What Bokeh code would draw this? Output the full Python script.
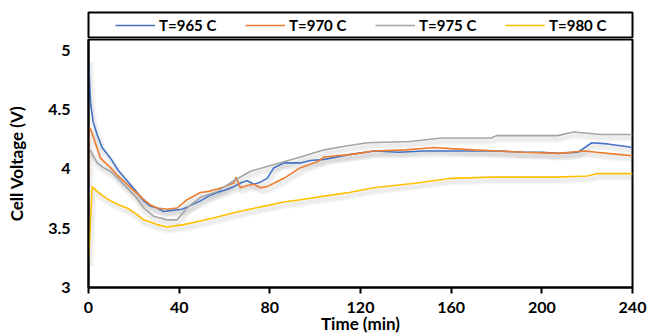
from bokeh.plotting import figure
from bokeh.models import Range1d, Legend, LegendItem, FixedTicker
from bokeh.layouts import column
from bokeh.embed import file_html
from bokeh.resources import INLINE

# ---- data (time in min, cell voltage in V) ----
t965 = [0, 0.9, 2, 3.8, 6, 9.7, 13, 17, 21, 24.4, 27, 30.3, 33.2, 37, 41.3, 45, 49.4, 53, 56.8, 60,
        64.1, 67, 70, 73, 76, 78.8, 81.8, 86.2, 93.5, 98, 104, 115, 126, 137, 148, 159, 170, 181, 192, 200,
        207, 216, 219, 222, 229, 236.5, 240]
v965 = [4.93, 4.56, 4.40, 4.29, 4.18, 4.09, 3.99, 3.90, 3.81, 3.73, 3.69, 3.67, 3.64, 3.65, 3.66, 3.69, 3.73, 3.77, 3.80, 3.82,
        3.85, 3.88, 3.90, 3.87, 3.89, 3.92, 4.01, 4.05, 4.05, 4.07, 4.08, 4.12, 4.15, 4.14, 4.15, 4.15, 4.15, 4.15, 4.14, 4.14,
        4.13, 4.14, 4.18, 4.22, 4.21, 4.19, 4.18]

t970 = [0, 0.3, 1, 2.3, 5.3, 9.7, 13, 17, 21, 24.4, 27, 30.3, 34.7, 39.1, 43.5, 49.4, 53, 56.8, 60, 64.1,
        65, 67, 70, 73, 76, 78.8, 82, 86.2, 93.5, 101, 104, 115, 126, 140, 152.6, 160, 170, 181, 192, 207,
        219, 224, 229, 235, 240]
v970 = [3.88, 4.35, 4.33, 4.26, 4.09, 4.01, 3.94, 3.87, 3.80, 3.74, 3.70, 3.67, 3.66, 3.67, 3.74, 3.80, 3.81, 3.83, 3.85, 3.88,
        3.93, 3.84, 3.86, 3.87, 3.84, 3.85, 3.88, 3.92, 4.01, 4.06, 4.10, 4.12, 4.15, 4.16, 4.18, 4.17, 4.16, 4.15, 4.14, 4.13,
        4.15, 4.14, 4.13, 4.12, 4.11]

t975 = [0, 1, 3.8, 6.5, 9.7, 13, 17, 21, 24.4, 28.8, 34.7, 39, 43.5, 49.4, 56.8, 64.1, 71.5, 78.8, 86.2, 93.5,
        104, 113, 123, 142, 155.6, 177.7, 180, 207, 214, 226, 240]
v975 = [4.17, 4.15, 4.05, 4.01, 3.98, 3.92, 3.84, 3.76, 3.67, 3.60, 3.57, 3.57, 3.67, 3.76, 3.81, 3.90, 3.98, 4.02, 4.06, 4.10,
        4.16, 4.19, 4.22, 4.23, 4.26, 4.26, 4.28, 4.28, 4.31, 4.29, 4.29]

t980 = [0, 1.6, 3.8, 6.5, 9.7, 13, 17, 21, 24.4, 30.3, 34.7, 42, 49.4, 56, 64.1, 71, 78.8, 86, 93.5, 104,
        115, 126, 135, 145, 160, 177.7, 207, 220, 224.7, 240]
v980 = [3.21, 3.85, 3.81, 3.77, 3.73, 3.70, 3.67, 3.62, 3.57, 3.53, 3.51, 3.53, 3.56, 3.59, 3.63, 3.66, 3.69, 3.72, 3.74, 3.77,
        3.80, 3.84, 3.86, 3.88, 3.92, 3.93, 3.93, 3.94, 3.96, 3.96]

labels = ["T=965 C", "T=970 C", "T=975 C", "T=980 C"]
colors = ["#4472C4", "#ED7D31", "#A5A5A5", "#FFC000"]
series = [(t965, v965), (t970, v970), (t975, v975), (t980, v980)]
x_ticks = [0, 40, 80, 120, 160, 200, 240]
y_ticks = [3, 3.5, 4, 4.5, 5]

FONT = "Lato"

# ---- main chart ----
p = figure(width=648, height=298, output_backend="svg", toolbar_location=None,
           x_range=Range1d(0, 240), y_range=Range1d(3, 5.09),
           min_border_left=88, min_border_right=16, min_border_top=1, min_border_bottom=49)
p.outline_line_color = "black"
p.outline_line_width = 2
p.xgrid.visible = False
p.ygrid.visible = False
p.background_fill_color = "white"
p.border_fill_color = "white"

for (t, v), c in zip(series, colors):
    shadow_v = [val - 0.03 for val in v]
    shadow_t = [val + 0.6 for val in t]
    p.line(shadow_t, shadow_v, line_color="#808080", line_width=7, line_alpha=0.07)
    p.line(shadow_t, shadow_v, line_color="#808080", line_width=4, line_alpha=0.08)

for (t, v), c in zip(series, colors):
    p.line(t, v, line_color=c, line_width=1.6)

p.xaxis.ticker = FixedTicker(ticks=x_ticks)
p.yaxis.ticker = FixedTicker(ticks=y_ticks)

for ax in (p.xaxis[0], p.yaxis[0]):
    ax.major_label_text_font = FONT
    ax.major_label_text_font_style = "bold"
    ax.major_label_text_font_size = "16px"
    ax.major_label_text_color = "black"
    ax.axis_label_text_font = FONT
    ax.axis_label_text_font_style = "bold"
    ax.axis_label_text_font_size = "17px"
    ax.axis_label_text_color = "black"
    ax.minor_tick_line_color = None
    ax.axis_line_color = "black"
    ax.axis_line_width = 2

p.xaxis.axis_label = "Time (min)"
p.xaxis.major_tick_line_color = "black"
p.xaxis.major_tick_line_width = 2
p.xaxis.major_tick_out = 6
p.xaxis.major_tick_in = 0
p.xaxis.major_label_standoff = 8
p.xaxis.axis_label_standoff = -3

p.yaxis.axis_label = "Cell Voltage (V)"
p.yaxis.major_tick_line_color = None
p.yaxis.major_tick_out = 0
p.yaxis.major_tick_in = 0
p.yaxis.major_label_standoff = 18
p.yaxis.axis_label_standoff = 18

# ---- legend strip above ----
lg = figure(width=648, height=38, output_backend="svg", toolbar_location=None,
            x_range=Range1d(1000, 1001), y_range=Range1d(1000, 1001),
            min_border_left=88, min_border_right=16, min_border_top=12, min_border_bottom=1)
lg.outline_line_color = "black"
lg.outline_line_width = 2
lg.xaxis.visible = False
lg.yaxis.visible = False
lg.xgrid.visible = False
lg.ygrid.visible = False
lg.border_fill_color = "white"
items = []
for (t, v), c, lab in zip(series, colors, labels):
    r = lg.line(t, v, line_color=c, line_width=1.6)
    items.append(LegendItem(label=lab, renderers=[r]))

legend = Legend(items=items, orientation="horizontal", location=(27, 2),
                glyph_width=40, glyph_height=20, label_height=20, label_width=66,
                label_standoff=4, spacing=20, padding=0, margin=0,
                border_line_color=None, background_fill_alpha=0,
                label_text_font=FONT, label_text_font_style="bold",
                label_text_font_size="15px", label_text_color="black")
lg.add_layout(legend)

layout = column(lg, p, spacing=0)

open("out.html", "w").write(file_html(layout, INLINE))
